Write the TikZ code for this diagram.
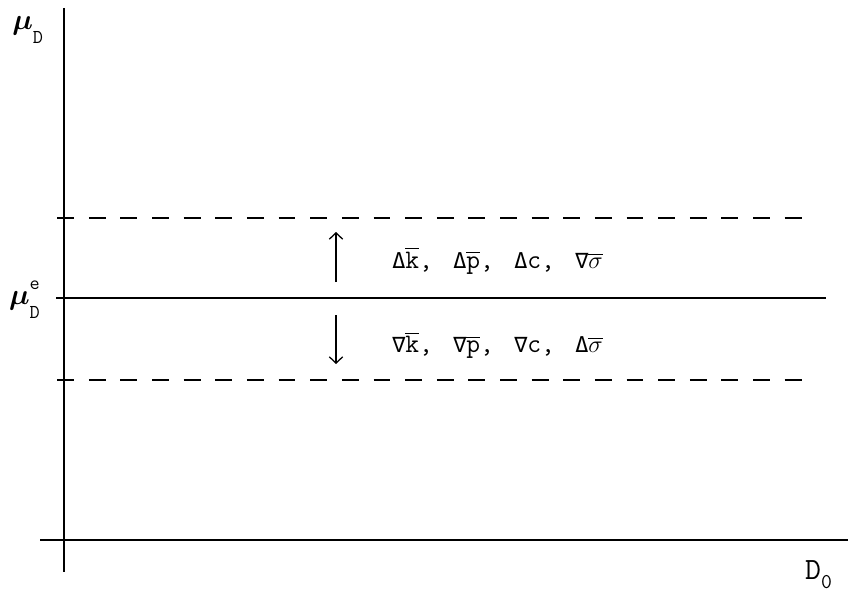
\documentclass[tikz,border=0pt]{standalone}
\usepackage{amsmath}
\usepackage{fontspec}
\newfontfamily\opfont{DejaVu Sans Mono}
\usetikzlibrary{arrows.meta}

\newcommand{\bv}[1]{\ensuremath{\overline{\mbox{\texttt{#1}}}}}
\newcommand{\op}[1]{{\fontsize{15.5}{17}\selectfont\opfont #1}}
\newcommand{\gap}{\hspace{14.5pt}}
\newcommand{\subsz}{\fontsize{14}{15}\selectfont}

\tikzset{
	axis/.style={line width=1.3pt},
	level/.style={line width=1.4pt},
	band/.style={line width=1.4pt, dash pattern=on 12pt off 10.5pt},
	moveto/.style={-{Straight Barb[length=4.5pt,width=9.5pt]}, line width=0.9pt},
	lab/.style={inner sep=0pt, font=\fontsize{19}{22}\selectfont\ttfamily},
	mulab/.style={inner sep=0pt, font=\fontsize{20}{22}\selectfont\ttfamily},
}

\begin{document}
\begin{tikzpicture}
		\useasboundingbox (0,0) rectangle (21.2,15);
		
		\coordinate (Ytop) at (1.6,14.8);
		\coordinate (Ybot) at (1.6,0.7);
		\coordinate (Xl) at (1.0,1.5);
		\coordinate (Xr) at (21.2,1.5);
		\coordinate (Ul) at (1.43,9.55);
		\coordinate (Ur) at (20.18,9.55);
		\coordinate (El) at (1.4,7.55);
		\coordinate (Er) at (20.65,7.55);
		\coordinate (Ll) at (1.43,5.5);
		\coordinate (Lr) at (20.18,5.5);
		\coordinate (Up0) at (8.4,7.95);
		\coordinate (Up1) at (8.4,9.2);
		\coordinate (Dn0) at (8.4,7.12);
		\coordinate (Dn1) at (8.4,5.9);
		
		\node[mulab, anchor=base west] (muD) at (0.3,14.25) {$\boldsymbol{\mu}$\raisebox{-1.1ex}{\subsz D}};
		\node[mulab, anchor=base west] (muE) at (0.22,7.4) {$\boldsymbol{\mu}$\rlap{\raisebox{1.2ex}{\subsz e}}\raisebox{-1.2ex}{\subsz D}};
		\node[lab, anchor=base west] (D0) at (20.12,0.52) {\fontsize{22}{24}\selectfont D\raisebox{-0.7ex}{\fontsize{15}{17}\selectfont 0}};
		\node[lab, anchor=base west] (up) at (9.8,8.3) {\op{Δ}\bv{k},\gap\op{Δ}\bv{p},\gap\op{Δ}c,\gap\op{∇}$\overline{\sigma}$};
		\node[lab, anchor=base west] (down) at (9.8,6.18) {\op{∇}\bv{k},\gap\op{∇}\bv{p},\gap\op{∇}c,\gap\op{Δ}$\overline{\sigma}$};
		
		\draw[axis] (Ytop) -- (Ybot);
		\draw[axis] (Xl) -- (Xr);
		\draw[band] (Ul) -- (Ur);
		\draw[level] (El) -- (Er);
		\draw[band] (Ll) -- (Lr);
		\draw[moveto] (Up0) -- (Up1);
		\draw[moveto] (Dn0) -- (Dn1);
		\end{tikzpicture}
\end{document}
